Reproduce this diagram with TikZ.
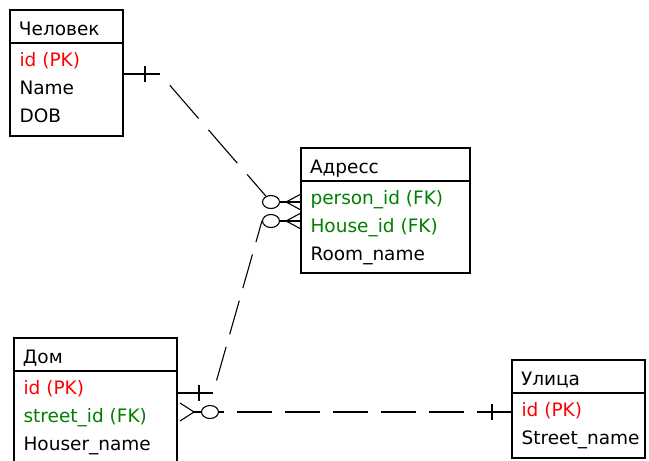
\documentclass[tikz,border=0pt]{standalone}
\usepackage{fontspec}
\setmainfont{DejaVu Sans}
\usetikzlibrary{positioning, calc, shapes.geometric}

\definecolor{pkred}{RGB}{255,0,0}
\definecolor{fkgreen}{RGB}{0,128,0}

\begin{document}
\begin{tikzpicture}[x=1pt, y=-1pt, line width=1.1pt,
    font=\fontsize{18.5}{23}\selectfont,
    head/.style={draw, line width=1.3pt, anchor=north west, inner xsep=9pt, inner ysep=0pt,
      outer sep=0pt, text height=25pt, text depth=8pt, align=left},
    body/.style={draw, line width=1.3pt, inner sep=0pt, outer sep=0pt},
    row/.style={anchor=base west, inner sep=0pt},
    pk/.style={text=pkred},
    fk/.style={text=fkgreen},
    opt/.style={ellipse, draw, minimum width=17pt, minimum height=13pt, inner sep=0pt},
    link/.style={dash pattern=on 35pt off 13pt}]
  \useasboundingbox (0,0) rectangle (649,461);
  \clip (0,0) rectangle (649,461);

  % entities
  \node[head, text width=95pt] (chel) at (10,10) {Человек};
  \node[body, minimum width=113pt, minimum height=93pt, below=0pt of chel] (chel-b) {};
  \node[row, pk] (chel-id) at ($(chel-b.north west)+(9,23)$) {id (PK)};
  \node[row] (chel-name) at ($(chel-id.base west)+(0,28)$) {Name};
  \node[row] (chel-dob) at ($(chel-name.base west)+(0,28)$) {DOB};

  \node[head, text width=151pt] (adr) at (301,148) {Адресс};
  \node[body, minimum width=169pt, minimum height=92pt, below=0pt of adr] (adr-b) {};
  \node[row, fk] (adr-pid) at ($(adr-b.north west)+(9,23)$) {person\_id (FK)};
  \node[row, fk] (adr-hid) at ($(adr-pid.base west)+(0,28)$) {House\_id (FK)};
  \node[row] (adr-room) at ($(adr-hid.base west)+(0,28)$) {Room\_name};

  \node[head, text width=145pt] (dom) at (14,338) {Дом};
  \node[body, minimum width=163pt, minimum height=110pt, below=0pt of dom] (dom-b) {};
  \node[row, pk] (dom-id) at ($(dom-b.north west)+(9,23)$) {id (PK)};
  \node[row, fk] (dom-sid) at ($(dom-id.base west)+(0,28)$) {street\_id (FK)};
  \node[row] (dom-name) at ($(dom-sid.base west)+(0,28)$) {Houser\_name};

  \node[head, text width=115pt] (ul) at (512,360) {Улица};
  \node[body, minimum width=133pt, minimum height=65pt, below=0pt of ul] (ul-b) {};
  \node[row, pk] (ul-id) at ($(ul-b.north west)+(9,23)$) {id (PK)};
  \node[row] (ul-name) at ($(ul-id.base west)+(0,28)$) {Street\_name};

  % optional ends
  \node[opt] (o1) at ($(adr-b.north west)+(-30,21)$) {};
  \node[opt] (o2) at ($(adr-b.north west)+(-30,40)$) {};
  \node[opt] (o3) at ($(dom-b.north east)+(33,41)$) {};

  % Человек -> Адресс
  \coordinate (s1) at ($(chel-b.north east)+(0,31)$);
  \draw (s1) -- ++(37,0) coordinate (s1e);
  \draw ($(s1)+(22,-8)$) -- ++(0,16);
  \draw[dash pattern=on 44pt off 15pt, dash phase=44pt] (s1e) -- (o1);
  \draw (o1.east) -- ++(6,0) coordinate (a1) -- (adr-b.west |- o1);
  \draw ($(adr-b.west |- o1)+(0,-8)$) -- (a1) -- ($(adr-b.west |- o1)+(0,8)$);

  % Дом -> Адресс
  \coordinate (s2) at ($(dom-b.north east)+(0,22)$);
  \draw (s2) -- ++(36,0) coordinate (s2e);
  \draw ($(s2)+(22,-8)$) -- ++(0,16);
  \draw[link, dash phase=35pt] (s2e) -- (o2.west);
  \draw (o2.east) -- ++(6,0) coordinate (a2) -- (adr-b.west |- o2);
  \draw ($(adr-b.west |- o2)+(0,-8)$) -- (a2) -- ($(adr-b.west |- o2)+(0,8)$);

  % Улица -> Дом
  \coordinate (s3) at ($(ul-b.north west)+(0,19)$);
  \draw (s3) -- ++(-22,0) coordinate (s3e);
  \draw ($(s3)+(-20,-8)$) -- ++(0,16);
  \draw[link, dash phase=30.5pt] (o3.east) -- (s3e);
  \draw (o3.west) -- ++(-7,0) coordinate (a3);
  \draw ($(dom-b.east |- o3)+(3,-9)$) -- (a3) -- ($(dom-b.east |- o3)+(3,9)$);
\end{tikzpicture}
\end{document}
